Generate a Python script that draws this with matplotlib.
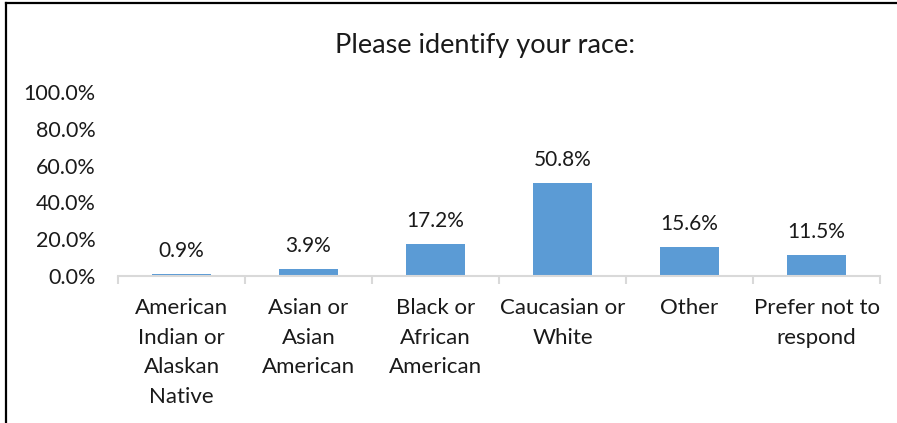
import matplotlib
matplotlib.use("Agg")
import matplotlib.pyplot as plt
from matplotlib.lines import Line2D
from matplotlib.ticker import FixedLocator, FuncFormatter

categories = ["American\nIndian or\nAlaskan\nNative", "Asian or\nAsian\nAmerican",
              "Black or\nAfrican\nAmerican", "Caucasian or\nWhite", "Other",
              "Prefer not to\nrespond"]
values = [0.9, 3.9, 17.2, 50.8, 15.6, 11.5]
labels = ["0.9%", "3.9%", "17.2%", "50.8%", "15.6%", "11.5%"]
title = "Please identify your race:"

plt.rcParams['font.family'] = ['Lato', 'DejaVu Sans']
W, H = 897, 423
fig = plt.figure(figsize=(W/100, H/100), dpi=100)
ax = fig.add_axes([118/W, (H-276)/H, (880-118)/W, (276-92)/H])

x = list(range(len(categories)))
ax.bar(x, values, width=0.465, color="#5B9BD5")
for xi, v, lab in zip(x, values, labels):
    ax.annotate(lab, (xi, v), xytext=(0, 16.5), textcoords="offset points",
                ha="center", va="center", fontsize=15, color="#1a1a1a")

ax.set_xlim(-0.5, len(categories) - 0.5)
ax.set_ylim(0, 100)
ax.set_yticks([0, 20, 40, 60, 80, 100])
ax.yaxis.set_major_formatter(FuncFormatter(lambda v, p: f"{v:.1f}%"))
ax.tick_params(axis='y', length=0, pad=16, labelsize=15.5, labelcolor="#1a1a1a")
ax.set_xticks(x)
ax.set_xticklabels(categories, fontsize=16, color="#1a1a1a", linespacing=1.6)
ax.tick_params(axis='x', which='major', length=0, pad=16)
ax.xaxis.set_minor_locator(FixedLocator([i - 0.5 for i in range(len(categories) + 1)]))
ax.tick_params(axis='x', which='minor', length=6, color="#D9D9D9", width=1.5)
for s in ["top", "right", "left"]:
    ax.spines[s].set_visible(False)
ax.spines["bottom"].set_color("#D9D9D9")
ax.spines["bottom"].set_linewidth(1.5)

fig.text(485/W, 1 - 45/H, title, ha="center", va="center", fontsize=19.5, color="#1a1a1a")

fig.add_artist(Line2D([6/W, 6/W], [0, 1 - 3.5/H], color="black", lw=1.6, transform=fig.transFigure))
fig.add_artist(Line2D([6/W, 1], [1 - 3.5/H, 1 - 3.5/H], color="black", lw=1.6, transform=fig.transFigure))

fig.savefig("out.png", dpi=100)
